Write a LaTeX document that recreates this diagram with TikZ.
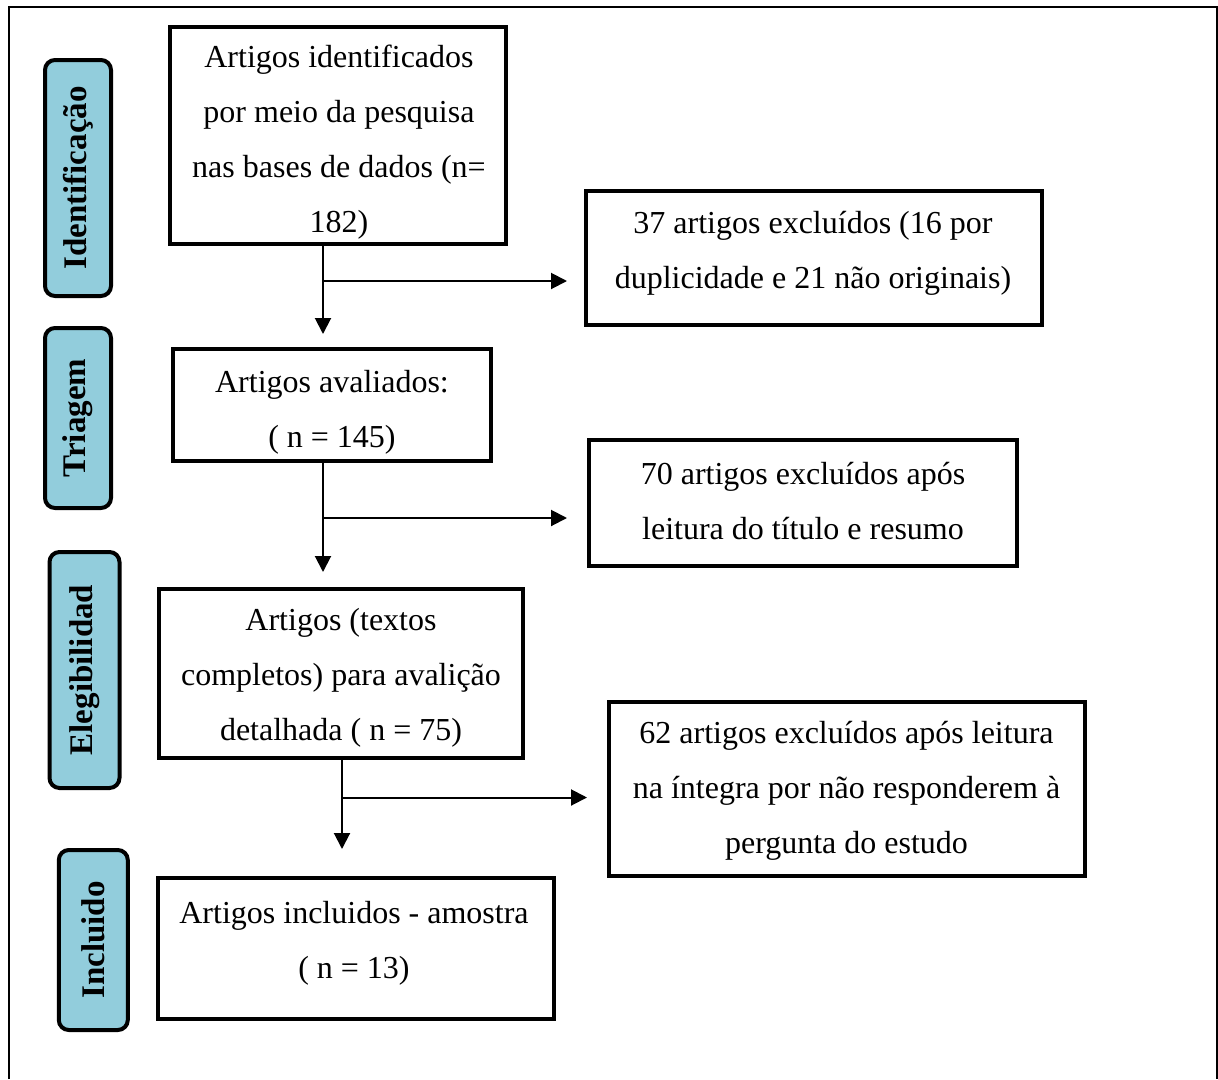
\documentclass[tikz,border=0pt]{standalone}
\usepackage{fontspec}
\setmainfont{Liberation Serif}
\usetikzlibrary{arrows.meta}
\definecolor{sideblue}{HTML}{92CDDC}
\begin{document}
\begin{tikzpicture}[x=1pt,y=-1pt,
  box/.style={draw, line width=4pt, inner sep=0pt},
  side/.style={draw, fill=sideblue, line width=4pt, rounded corners=10pt, rotate=90, inner sep=0pt,
    font=\fontsize{33}{33}\selectfont\bfseries},
  txt/.style={align=center, inner sep=0pt, font=\fontsize{32}{55}\selectfont},
  arr/.style={line width=2pt, -{Triangle[width=16pt,length=16pt]}},
  frame/.style={line width=2pt}]
\useasboundingbox (0,0) rectangle (1218,1079);
% outer frame (open at the bottom)
\coordinate (fbl) at (9,1079);
\coordinate (ftl) at (9,7);
\coordinate (ftr) at (1217,7);
\coordinate (fbr) at (1217,1079);
\draw[frame] (fbl) -- (ftl) -- (ftr) -- (fbr);

% side labels
\node[side, minimum width=236pt, minimum height=66pt] (s1) at (78,178) {Identificação};
\node[side, minimum width=180pt, minimum height=66pt] (s2) at (78,418) {Triagem};
\node[side, minimum width=236pt, minimum height=70pt] (s3) at (84.5,670) {Elegibilidad};
\node[side, minimum width=180pt, minimum height=69pt] (s4) at (93.3,940) {Incluido};

% boxes
\node[box, minimum width=336pt, minimum height=217pt] (A) at (338,135.5) {};
\node[box, minimum width=456pt, minimum height=134pt] (B) at (814,258) {};
\node[box, minimum width=318pt, minimum height=112pt] (C) at (332,405) {};
\node[box, minimum width=428pt, minimum height=126pt] (D) at (803,503) {};
\node[box, minimum width=364pt, minimum height=169pt] (E) at (341,673.5) {};
\node[box, minimum width=476pt, minimum height=174pt] (F) at (847,789) {};
\node[box, minimum width=396pt, minimum height=141pt] (G) at (356,948.5) {};

% texts
\node[txt] (At) at (339,142) {Artigos identificados\\por meio da pesquisa\\nas bases de dados (n=\\182)};
\node[txt] (Bt) at (813,253) {37 artigos excluídos (16 por\\duplicidade e 21 não originais)};
\node[txt] (Ct) at (332,412) {Artigos avaliados:\\( n = 145)};
\node[txt] (Dt) at (803,501) {70 artigos excluídos após\\leitura do título e resumo};
\node[txt] (Et) at (341,678) {Artigos (textos\\completos) para avalição\\detalhada ( n = 75)};
\node[txt] (Ft) at (846.5,791) {62 artigos excluídos após leitura\\na íntegra por não responderem à\\pergunta do estudo};
\node[txt] (Gt) at (354,943) {Artigos incluidos - amostra\\( n = 13)};

% connectors
\coordinate (a1) at (323,334);
\coordinate (h1) at (323,281);
\coordinate (h1e) at (567,281);
\draw[arr] (A.south -| a1) -- (a1);
\draw[arr] (h1) -- (h1e);

\coordinate (a2) at (323,572);
\coordinate (h2) at (323,518);
\coordinate (h2e) at (567,518);
\draw[arr] (C.south -| a2) -- (a2);
\draw[arr] (h2) -- (h2e);

\coordinate (a3) at (342,849);
\coordinate (h3) at (342,797.5);
\coordinate (h3e) at (587,797.5);
\draw[arr] (E.south -| a3) -- (a3);
\draw[arr] (h3) -- (h3e);
\end{tikzpicture}
\end{document}
